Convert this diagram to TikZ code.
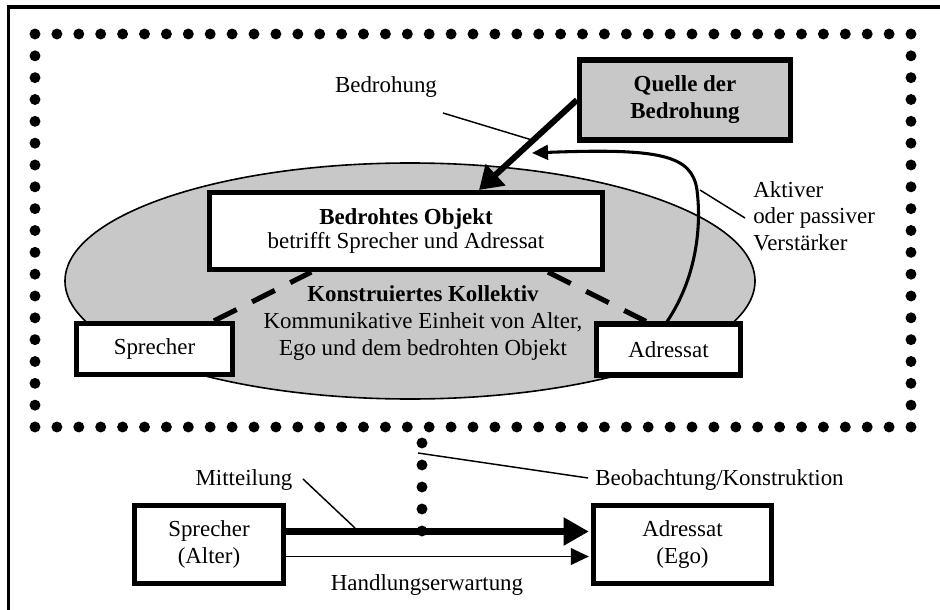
\documentclass[tikz,border=0pt]{standalone}
\usepackage{fontspec}
\setmainfont{Liberation Serif}
\usetikzlibrary{arrows.meta,shapes.geometric,calc}
\definecolor{kgray}{RGB}{200,200,200}
\begin{document}
\begin{tikzpicture}[x=0.75pt,y=-0.75pt,
  every node/.style={font=\fontsize{17.2}{19.8}\selectfont, align=center},
  box/.style={draw, line width=3.9pt, fill=white, inner sep=0pt},
  lbl/.style={inner sep=0pt, anchor=base},
  leader/.style={line width=1.1pt},
  dashline/.style={line width=3.8pt, dash pattern=on 19pt off 13pt},
  dotfill/.style={fill=black},
]
\useasboundingbox (0,0) rectangle (940,610);
% outer frame
\draw[line width=2.4pt] (8.5,620) -- (8.5,7) -- (950,7);
% dotted rectangle
\foreach \i in {0,...,40} {
  \fill[dotfill] ({35+\i*21.9},34) circle (4.1pt);
  \fill[dotfill] ({35+\i*21.9},427) circle (4.1pt);
}
\foreach \i in {1,...,17} {
  \fill[dotfill] (35,{34+\i*21.833}) circle (4.1pt);
  \fill[dotfill] (911,{34+\i*21.833}) circle (4.1pt);
}
% ellipse
\node[ellipse, draw, line width=1.2pt, fill=kgray, minimum width=517.5pt, minimum height=177pt, inner sep=0pt] (coll) at (410,281) {};
\node[inner sep=0pt, font=\fontsize{17.2}{20.25}\selectfont] (colltxt) at (423,323) {\textbf{Konstruiertes Kollektiv}\\Kommunikative Einheit von Alter,\\Ego und dem bedrohten Objekt};
% boxes
\node[box, minimum width=294.75pt, minimum height=57.75pt, font=\fontsize{17.2}{18}\selectfont] (bo) at (406,231) {\textbf{Bedrohtes Objekt}\\betrifft Sprecher und Adressat};
\node[box, minimum width=117pt, minimum height=38.25pt] (sp) at (154.5,349) {Sprecher};
\node[box, minimum width=108pt, minimum height=38.25pt] (ad) at (668.5,349.5) {Adressat};
% dashed connectors
\draw[dashline] ([xshift=44.6pt]sp.north) -- ([xshift=-71pt]bo.south);
\draw[dashline] ([xshift=106.5pt]bo.south) -- ([xshift=-16.9pt]ad.north);
% Quelle
\coordinate (tipq) at (479,190);
\node[box, fill=kgray, minimum width=158.25pt, minimum height=60pt, font=\fontsize{17.2}{20.25}\selectfont\bfseries] (q) at (685,100) {Quelle der\\Bedrohung};
\draw[line width=4.5pt, -{Triangle[length=17pt,width=21pt]}] (q.west) -- (tipq);
% curved arrow
\coordinate (tipc) at (532,153);
\draw[line width=2.3pt, -{Triangle[length=12pt,width=11pt]}] ([xshift=-1pt]ad.north) .. controls (695,280) and (702,230) .. (697,190) .. controls (692,155) and (660,148) .. (tipc);
% labels top
\node[lbl] (lbed) at (386,93) {Bedrohung};
\coordinate (l1a) at (443,113);
\coordinate (l1b) at (532,140);
\draw[leader] (l1a) -- (l1b);
\node[inner sep=0pt, anchor=west, align=left, font=\fontsize{17.2}{19.9}\selectfont] (lakt) at (753,216) {Aktiver\\oder passiver\\Verstärker};
\coordinate (l2a) at (700,190);
\coordinate (l2b) at (745,218);
\draw[leader] (l2a) -- (l2b);
% bottom
\node[box, minimum width=111.75pt, minimum height=58.5pt] (sa) at (209,544.5) {Sprecher\\(Alter)};
\node[box, minimum width=133.5pt, minimum height=58.5pt] (ae) at (682.5,544.5) {Adressat\\(Ego)};
\draw[line width=5.6pt, -{Triangle[length=19pt,width=20pt]}] ([yshift=9.75pt]sa.east) -- ([yshift=9.75pt,xshift=-1.5pt]ae.west);
\draw[line width=1.2pt, -{Triangle[length=13.5pt,width=12.5pt]}] ([yshift=-9pt]sa.east) -- ([yshift=-9pt,xshift=-1.5pt]ae.west);
\foreach \yy in {443,465,487,509,531} {
  \fill[dotfill] (422,\yy) circle (4.1pt);
}
\node[lbl] (lmit) at (244,485) {Mitteilung};
\coordinate (l3a) at (303,479);
\coordinate (l3b) at (355,528);
\draw[leader] (l3a) -- (l3b);
\node[lbl, anchor=base west] (lbeo) at (595,485) {Beobachtung/Konstruktion};
\coordinate (l4a) at (418,453);
\coordinate (l4b) at (588,478);
\draw[leader] (l4a) -- (l4b);
\node[lbl] (lhand) at (427,590) {Handlungserwartung};
\end{tikzpicture}
\end{document}
